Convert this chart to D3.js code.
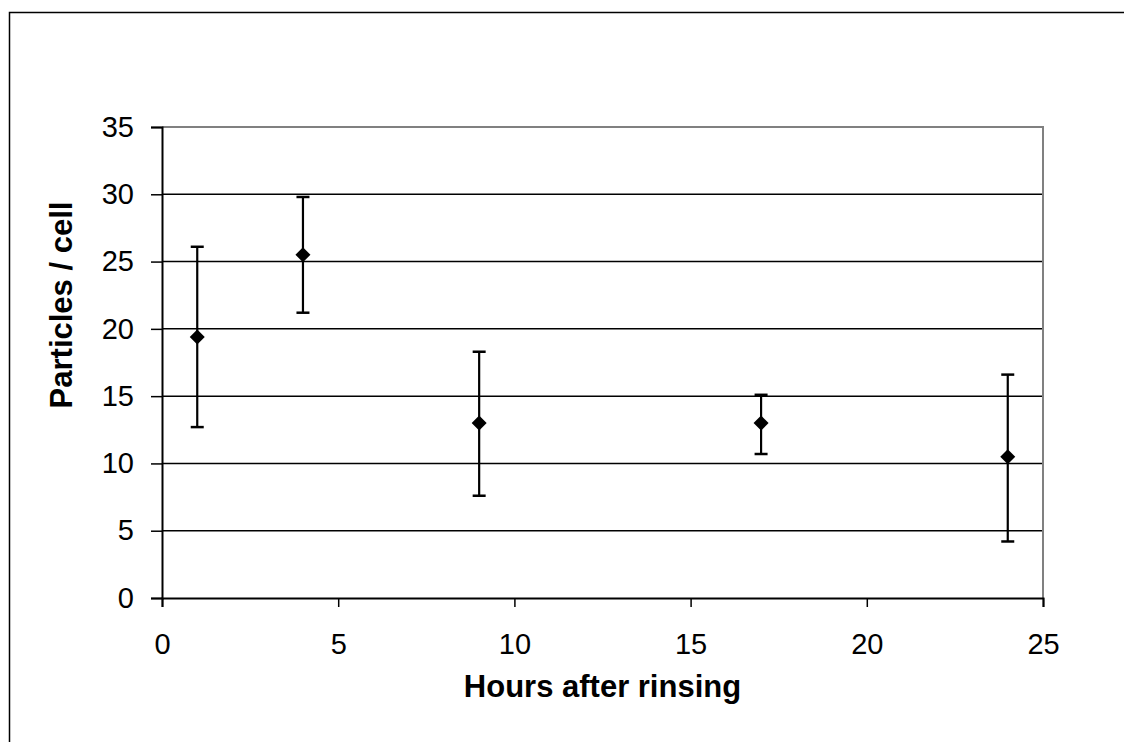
<!DOCTYPE html>
<html>
<head>
<meta charset="utf-8">
<script src="https://cdn.jsdelivr.net/npm/d3@7"></script>
<style>
	body { margin: 0; background: #fff; overflow: hidden; }
	svg { display: block; }
	svg text { font-family: Arial, "Liberation Sans", sans-serif; fill: #000; }
</style>
</head>
<body>
<div id="chart"></div>
<script>
'use strict';

// data
let hours = [1, 4, 9, 17, 24];
let means = [19.4, 25.5, 13.0, 13.0, 10.5];
let upper = [26.1, 29.8, 18.3, 15.1, 16.6];
let lower = [12.7, 21.2, 7.6, 10.7, 4.2];
let xTicks = [0, 5, 10, 15, 20, 25];
let yTicks = [0, 5, 10, 15, 20, 25, 30, 35];

let W = 1124, H = 742;
let m = {left: 162, right: 1043, top: 127, bottom: 598};

let svg = d3.select('#chart')
	.append('svg')
		.attr('width', W)
		.attr('height', H)
	;

// outer frame, runs off the right and bottom edges
svg.append('path')
	.attr('d', `M9.5,${H + 10}V12.5H${W + 10}`)
	.attr('fill', 'none').attr('stroke', '#000').attr('stroke-width', 1.5)
	;

let x = d3.scaleLinear().domain([0, 25]).range([m.left, m.right]);
let y = d3.scaleLinear().domain([0, 35]).range([m.bottom, m.top]);

// gridlines
svg.append('g')
	.selectAll('line')
	.data(yTicks.filter(d => d > 0 && d < 35))
	.join('line')
		.attr('x1', m.left).attr('x2', m.right)
		.attr('y1', d => y(d)).attr('y2', d => y(d))
		.attr('stroke', '#000').attr('stroke-width', 1.5)
	;

// plot area border (top and right)
svg.append('path')
	.attr('d', `M${m.left},${y(35)}H${m.right}V${m.bottom}`)
	.attr('fill', 'none').attr('stroke', '#808080').attr('stroke-width', 2)
	;

let yAxis = svg.append('g')
	.attr('transform', `translate(${m.left},0)`)
	.call(d3.axisLeft(y).tickValues(yTicks).tickSize(11).tickPadding(17).tickFormat(d3.format('d')))
	;
let xAxis = svg.append('g')
	.attr('transform', `translate(0,${m.bottom})`)
	.call(d3.axisBottom(x).tickValues(xTicks).tickSize(9).tickPadding(26).tickFormat(d3.format('d')))
	;
for (let a of [yAxis, xAxis]) {
	a.select('.domain').attr('stroke', '#000').attr('stroke-width', 2);
	a.selectAll('.tick line').attr('stroke', '#000').attr('stroke-width', 1.5);
	a.selectAll('.tick text')
		.style('font-family', 'Arial, "Liberation Sans", sans-serif')
		.style('font-size', '29px')
		.attr('fill', '#000');
}
xAxis.selectAll('.tick text').attr('dy', '0.71em');

// error bars
let eb = svg.append('g');
let pts = hours.map((h, i) => ({h: h, m: means[i], hi: upper[i], lo: lower[i]}));
eb.selectAll('line.v')
	.data(pts)
	.join('line')
		.classed('v', true)
		.attr('x1', d => x(d.h)).attr('x2', d => x(d.h))
		.attr('y1', d => y(d.hi)).attr('y2', d => y(d.lo))
		.attr('stroke', '#000').attr('stroke-width', 2.2)
	;
for (let k of ['hi', 'lo']) {
	eb.selectAll('line.c' + k)
		.data(pts)
		.join('line')
			.classed('c' + k, true)
			.attr('x1', d => x(d.h) - 6.5).attr('x2', d => x(d.h) + 6.5)
			.attr('y1', d => y(d[k])).attr('y2', d => y(d[k]))
			.attr('stroke', '#000').attr('stroke-width', 2.5)
		;
}

// diamond markers
svg.append('g')
	.selectAll('path')
	.data(pts)
	.join('path')
		.attr('d', 'M0,-7.5L7.5,0L0,7.5L-7.5,0Z')
		.attr('transform', d => `translate(${x(d.h)},${y(d.m)})`)
		.attr('fill', '#000')
	;

// axis titles
svg.append('text')
	.attr('x', (m.left + m.right) / 2)
	.attr('y', 697)
	.attr('text-anchor', 'middle')
	.style('font-size', '31px')
	.style('font-weight', 'bold')
	.text('Hours after rinsing')
	;
svg.append('text')
	.attr('transform', 'translate(72,305) rotate(-90)')
	.attr('text-anchor', 'middle')
	.style('font-size', '31px')
	.style('font-weight', 'bold')
	.text('Particles / cell')
	;
</script>
</body>
</html>
